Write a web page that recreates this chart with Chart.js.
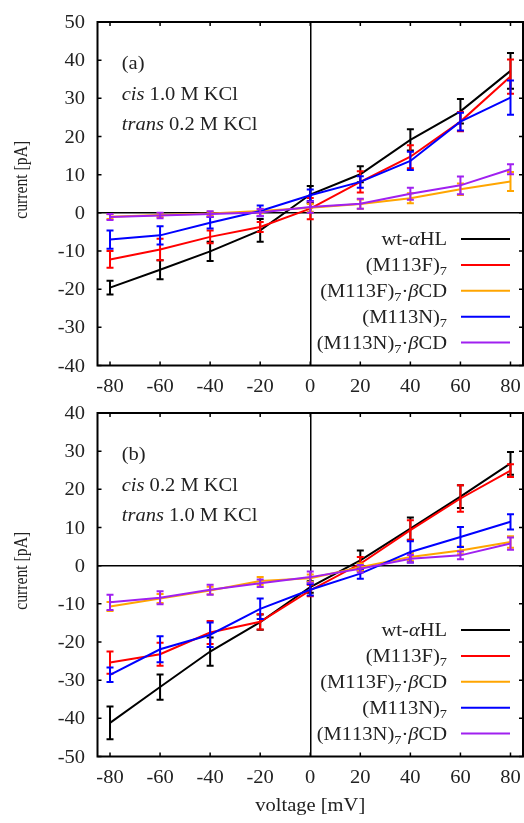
<!DOCTYPE html>
<html>
<head>
<meta charset="utf-8">
<script src="https://cdn.jsdelivr.net/npm/chart.js@4"></script>
<style>
  body { margin: 0; background: #fff; }
  canvas { position: absolute; left: 0; }
  #panel-a { top: 0; }
  #panel-b { top: 400px; }
</style>
</head>
<body>
<canvas id="panel-a" width="524" height="400"></canvas>
<canvas id="panel-b" width="524" height="423"></canvas>
<script>
// Напряжения (мВ)
const voltages = [-80, -60, -40, -20, 0, 20, 40, 60, 80];

// Подписи и цвета серий
const seriesLabels = ['wt-αHL', '(M113F)₇', '(M113F)₇·βCD', '(M113N)₇', '(M113N)₇·βCD'];
const seriesColors = ['#000000', '#ff0000', '#ffa500', '#0000ff', '#a020f0'];

// Панель (a): cis 1.0 M / trans 0.2 M KCl
const wtA      = [-19.6, -14.9, -10.1, -4.6, 4.8, 10.1, 19.1, 26.6, 37.2];
const wtAErr   = [1.8, 2.5, 2.5, 3.0, 2.2, 2.1, 2.8, 3.2, 4.7];
const m113fA    = [-12.2, -9.6, -6.3, -3.7, 1.1, 8.1, 14.7, 23.9, 35.7];
const m113fAErr = [2.2, 2.8, 1.7, 1.3, 2.8, 2.8, 3.0, 2.5, 4.5];
const m113fCdA    = [-1.0, -0.6, -0.2, 0.5, 1.3, 2.3, 3.8, 6.2, 8.2];
const m113fCdAErr = [0.6, 0.5, 0.5, 0.6, 1.0, 1.2, 1.3, 1.5, 2.5];
const m113nA    = [-7.0, -5.9, -2.6, 0.5, 4.6, 8.1, 13.6, 23.9, 30.2];
const m113nAErr = [2.4, 2.4, 1.5, 1.4, 1.5, 1.5, 2.4, 2.3, 4.5];
const m113nCdA    = [-1.1, -0.7, -0.3, 0.1, 1.5, 2.4, 5.0, 7.2, 11.4];
const m113nCdAErr = [0.8, 0.7, 0.7, 0.9, 1.5, 1.3, 1.6, 2.3, 1.3];

// Панель (b): cis 0.2 M / trans 1.0 M KCl
const wtB      = [-41.2, -31.8, -22.5, -14.8, -5.6, 1.4, 9.7, 18.1, 26.8];
const wtBErr   = [4.3, 3.3, 3.7, 2.0, 1.5, 2.6, 2.9, 3.0, 3.0];
const m113fB    = [-25.4, -23.2, -17.5, -14.7, -6.5, 0.5, 9.3, 17.6, 24.9];
const m113fBErr = [2.9, 3.0, 3.0, 2.0, 1.5, 1.8, 2.6, 3.5, 1.7];
const m113fCdB    = [-10.7, -8.6, -6.5, -4.0, -3.3, -0.4, 2.3, 4.0, 6.2];
const m113fCdBErr = [1.2, 1.2, 1.0, 1.0, 1.0, 1.0, 1.0, 1.0, 1.5];
const m113nB    = [-28.6, -21.9, -18.1, -11.3, -6.3, -2.1, 3.6, 7.5, 11.5];
const m113nBErr = [1.9, 3.4, 3.2, 2.7, 1.5, 1.3, 2.8, 2.6, 2.0];
const m113nCdB    = [-9.6, -8.4, -6.3, -4.6, -3.0, -0.8, 1.8, 2.7, 5.8];
const m113nCdBErr = [2.0, 1.7, 1.3, 1.0, 1.5, 1.0, 1.0, 1.0, 1.6];

const FONT = '"Liberation Serif", "Times New Roman", serif';
const TEXT_COLOR = '#222';
const STRETCH = 1.14; // шрифт в оригинале шире, чем выше

// Растянутый по горизонтали текст, y — базовая линия
function fillWide(ctx, text, x, y, align, font) {
    ctx.font = font || ('18px ' + FONT);
    ctx.textBaseline = 'alphabetic';
    ctx.textAlign = 'left';
    const w = ctx.measureText(text).width * STRETCH;
    const x0 = align === 'right' ? x - w : (align === 'center' ? x - w / 2 : x);
    ctx.save();
    ctx.translate(x0, y);
    ctx.scale(STRETCH, 1);
    ctx.fillText(text, 0, 0);
    ctx.restore();
    return w;
}

// Текст с курсивными греческими буквами и нижним индексом
function drawRich(ctx, str, x, y, size, align) {
    const parts = [];
    for (const ch of str) {
        if (ch === '₇') parts.push({ t: '7', font: (size * 0.7) + 'px ' + FONT, dy: 4 });
        else if (ch === 'α' || ch === 'β') parts.push({ t: ch, font: 'italic ' + size + 'px ' + FONT, dy: 0 });
        else parts.push({ t: ch, font: size + 'px ' + FONT, dy: 0 });
    }
    let total = 0;
    parts.forEach(p => { ctx.font = p.font; p.w = ctx.measureText(p.t).width * STRETCH; total += p.w; });
    let cx = align === 'right' ? x - total : x;
    parts.forEach(p => {
        fillWide(ctx, p.t, cx, y + 6 + p.dy, 'left', p.font);
        cx += p.w;
    });
}

// Плагин: рамка, внутренние засечки, планки погрешностей, легенда, подписи
const decorPlugin = {
    id: 'decor',
    afterDatasetDraw(chart, args) {
        const ds = chart.data.datasets[args.index];
        const ctx = chart.ctx;
        const ys = chart.scales.y;
        ctx.save();
        ctx.strokeStyle = ds.borderColor;
        ctx.lineWidth = 2;
        args.meta.data.forEach((pt, i) => {
            const v = ds.data[i].y, e = ds.errors[i];
            const top = ys.getPixelForValue(v + e);
            const bot = ys.getPixelForValue(v - e);
            ctx.beginPath();
            ctx.moveTo(pt.x, top); ctx.lineTo(pt.x, bot);
            ctx.moveTo(pt.x - 3.5, top); ctx.lineTo(pt.x + 3.5, top);
            ctx.moveTo(pt.x - 3.5, bot); ctx.lineTo(pt.x + 3.5, bot);
            ctx.stroke();
        });
        ctx.restore();
    },
    afterDraw(chart, args, opts) {
        const ctx = chart.ctx;
        const a = chart.chartArea;
        const xs = chart.scales.x, ys = chart.scales.y;
        ctx.save();
        ctx.strokeStyle = '#000';
        // засечки внутрь на всех сторонах
        ctx.lineWidth = 1.5;
        ctx.beginPath();
        xs.ticks.forEach(t => {
            const px = xs.getPixelForValue(t.value);
            ctx.moveTo(px, a.bottom); ctx.lineTo(px, a.bottom - 4);
            ctx.moveTo(px, a.top); ctx.lineTo(px, a.top + 4);
        });
        ys.ticks.forEach(t => {
            const py = ys.getPixelForValue(t.value);
            ctx.moveTo(a.left, py); ctx.lineTo(a.left + 4, py);
            ctx.moveTo(a.right, py); ctx.lineTo(a.right - 4, py);
        });
        ctx.stroke();
        ctx.lineWidth = 2;
        ctx.strokeRect(a.left, a.top, a.right - a.left, a.bottom - a.top);

        // подписи делений
        ctx.fillStyle = TEXT_COLOR;
        xs.ticks.forEach(t => {
            fillWide(ctx, String(t.value), xs.getPixelForValue(t.value), a.bottom + 26.5, 'center');
        });
        ys.ticks.forEach(t => {
            fillWide(ctx, String(t.value), 85, ys.getPixelForValue(t.value) + 6, 'right');
        });

        // подписи условий
        drawRich(ctx, opts.tag, 121.7, a.top + 41, 18, 'left');
        opts.lines.forEach((ln, i) => {
            const y = a.top + 71.5 + i * 30 + 6;
            const w = fillWide(ctx, ln[0], 121.7, y, 'left', 'italic 18px ' + FONT);
            fillWide(ctx, ln[1], 121.7 + w, y, 'left');
        });

        // легенда
        chart.data.datasets.forEach((ds, i) => {
            const y = a.top + 217 + i * 25.9;
            ctx.fillStyle = TEXT_COLOR;
            drawRich(ctx, ds.label, 447, y, 18, 'right');
            ctx.strokeStyle = ds.borderColor;
            ctx.lineWidth = 2;
            ctx.beginPath();
            ctx.moveTo(461, y); ctx.lineTo(510, y);
            ctx.stroke();
        });

        // подписи осей
        ctx.fillStyle = TEXT_COLOR;
        ctx.save();
        ctx.translate(22, (a.top + a.bottom) / 2 - 14);
        ctx.rotate(-Math.PI / 2);
        ctx.scale(0.87, 1.1);
        ctx.font = '18px ' + FONT;
        ctx.textAlign = 'center';
        ctx.textBaseline = 'middle';
        ctx.fillText('current [pA]', 0, 0);
        ctx.restore();
        if (opts.xTitle) {
            fillWide(ctx, 'voltage [mV]', (a.left + a.right) / 2, a.bottom + 54, 'center');
        }
        ctx.restore();
    }
};

function makePanel(canvasId, values, errors, yMin, yMax, padTop, xHeight, decor) {
    const datasets = values.map((vals, i) => ({
        label: seriesLabels[i],
        data: vals.map((v, k) => ({ x: voltages[k], y: v })),
        errors: errors[i],
        borderColor: seriesColors[i],
        backgroundColor: seriesColors[i],
        borderWidth: 2,
        pointRadius: 0,
        tension: 0,
        order: values.length - i
    }));
    const zeroColor = ctx => (ctx.tick && ctx.tick.value === 0) ? '#000' : 'rgba(0,0,0,0)';
    return new Chart(document.getElementById(canvasId), {
        type: 'line',
        data: { datasets: datasets },
        options: {
            responsive: false,
            animation: false,
            devicePixelRatio: 1,
            layout: { padding: { top: padTop, right: 1, left: 0, bottom: 0 } },
            plugins: {
                legend: { display: false },
                tooltip: { enabled: false },
                decor: decor
            },
            scales: {
                x: {
                    type: 'linear',
                    min: -85,
                    max: 85,
                    afterBuildTicks: s => { s.ticks = voltages.map(v => ({ value: v })); },
                    afterFit: s => { s.height = xHeight; },
                    grid: { color: zeroColor, lineWidth: 1.5, drawTicks: false },
                    border: { display: false },
                    ticks: { display: false }
                },
                y: {
                    min: yMin,
                    max: yMax,
                    afterFit: s => { s.width = 97.5; },
                    grid: { color: zeroColor, lineWidth: 1.5, drawTicks: false },
                    border: { display: false },
                    ticks: { display: false, stepSize: 10 }
                }
            }
        },
        plugins: [decorPlugin]
    });
}

makePanel('panel-a',
    [wtA, m113fA, m113fCdA, m113nA, m113nCdA],
    [wtAErr, m113fAErr, m113fCdAErr, m113nAErr, m113nCdAErr],
    -40, 50, 22, 34.5,
    { tag: '(a)', lines: [['cis', ' 1.0 M KCl'], ['trans', ' 0.2 M KCl']], xTitle: false });

makePanel('panel-b',
    [wtB, m113fB, m113fCdB, m113nB, m113nCdB],
    [wtBErr, m113fBErr, m113fCdBErr, m113nBErr, m113nCdBErr],
    -50, 40, 13, 66.5,
    { tag: '(b)', lines: [['cis', ' 0.2 M KCl'], ['trans', ' 1.0 M KCl']], xTitle: true });
</script>
</body>
</html>
